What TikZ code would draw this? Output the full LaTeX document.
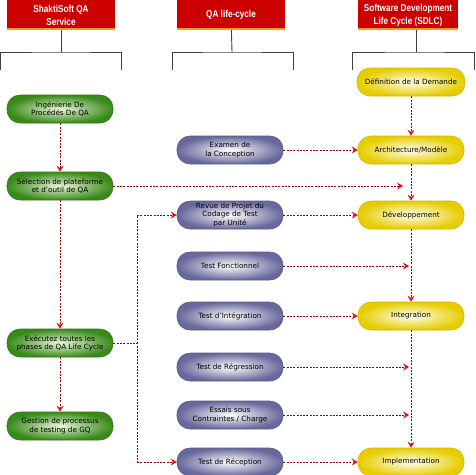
\documentclass[tikz,border=0pt]{standalone}
\usepackage{fontspec}
\setmainfont{DejaVu Sans}
\newfontfamily\headfont[FakeStretch=0.82]{Liberation Sans}
\usetikzlibrary{arrows.meta}

\definecolor{headred}{HTML}{CC0000}
\definecolor{headorange}{HTML}{FF9A1A}
\definecolor{linkred}{HTML}{990000}
\definecolor{tipred}{HTML}{DD1111}
\definecolor{greenrim}{HTML}{3A8A1A}
\definecolor{greenin}{HTML}{E8F6D8}
\definecolor{purplerim}{HTML}{68689C}
\definecolor{purplein}{HTML}{FFFFFF}
\definecolor{yellowrim}{HTML}{E6CC00}
\definecolor{yellowin}{HTML}{FFFFF0}

\tikzset{
  head/.style={fill=headred, text=white, minimum width=108pt, minimum height=30pt,
    inner sep=0pt, align=center, font=\headfont\bfseries\fontsize{10}{13}\selectfont,
    path picture={\fill[headorange] (path picture bounding box.south west)
      rectangle ([yshift=2pt]path picture bounding box.south east);}},
  pill/.style={rounded corners=13pt, minimum height=28pt, minimum width=106pt,
    inner sep=0pt, align=center, line width=0.6pt, font=\fontsize{7.2}{8.2}\selectfont},
  qastep/.style={pill, inner color=greenin, outer color=greenrim, draw=greenrim!85!black},
  qacheck/.style={pill, inner color=purplein, outer color=purplerim, draw=purplerim!85!black},
  sdlcstep/.style={pill, inner color=yellowin, outer color=yellowrim, draw=yellowrim!90!black},
  link/.style={linkred, line width=0.8pt, dash pattern=on 2pt off 1.3pt},
  linkarrow/.style={link, -{Stealth[length=6pt, width=7pt, inset=2.2pt, color=tipred]}},
  bracket/.style={draw=black!75, line width=0.9pt}
}

\begin{document}
\begin{tikzpicture}[x=1pt, y=-1pt]
    \useasboundingbox (0,0) rectangle (475,475);

    \node[head] (svchead) at (61,15) {ShaktiSoft QA\\Service};
    \node[head] (cyclehead) at (231,15) {QA life-cycle};
    \node[head, minimum width=100pt] (sdlchead) at (408,15) {Software Development\\Life Cycle (SDLC)};

    \coordinate (svcfork) at (61,52);
    \coordinate (svcL) at (0.5,70);
    \coordinate (svcR) at (121.5,70);
    \coordinate (cyclefork) at (232,52);
    \coordinate (cycleL) at (172,70);
    \coordinate (cycleR) at (293,70);
    \coordinate (sdlcstem) at (416,30);
    \coordinate (sdlcfork) at (416,52);
    \coordinate (sdlcL) at (352,70);
    \coordinate (sdlcR) at (474.5,70);

    \draw[bracket] (svchead) -- (svcfork);
    \draw[bracket] (svcL) |- (svcfork) -| (svcR);
    \draw[bracket] (cyclehead) -- (cyclefork);
    \draw[bracket] (cycleL) |- (cyclefork) -| (cycleR);
    \draw[bracket] (sdlcstem) -- (sdlcfork);
    \draw[bracket] (sdlcL) |- (sdlcfork) -| (sdlcR);

    \node[qastep] (engineer) at (60,109) {Ingénierie De\\Procédés De QA};
    \node[qastep] (select) at (60,186) {Sélection de plateforme\\et d’outil de QA};
    \node[qastep] (execute) at (60,343) {Exécutez toutes les\\phases de QA Life Cycle};
    \node[qastep] (manage) at (60,426) {Gestion de processus\\de testing de GQ};

    \node[qacheck] (design) at (230,150) {Examen de\\la Conception};
    \node[qacheck] (review) at (230,215) {Revue de Projet du\\Codage de Test\\par Unité};
    \node[qacheck] (functional) at (230,266) {Test Fonctionnel};
    \node[qacheck] (integtest) at (230,316) {Test d’Intégration};
    \node[qacheck] (regression) at (230,367) {Test de Régression};
    \node[qacheck] (load) at (230,415) {Essais sous\\Contraintes / Charge};
    \node[qacheck] (acceptance) at (230,462) {Test de Réception};

    \node[sdlcstep, minimum width=108pt] (demand) at (411,82) {Définition de la Demande};
    \node[sdlcstep] (archi) at (411,150) {Architecture/Modèle};
    \node[sdlcstep] (develop) at (411,215) {Développement};
    \node[sdlcstep] (integ) at (411,316) {Integration};
    \node[sdlcstep] (deploy) at (411,462) {Implementation};

    \coordinate (selecttip) at (403,186);
    \coordinate (functionaltip) at (409,266);
    \coordinate (regressiontip) at (409,367);
    \coordinate (loadtip) at (409,415);
    \coordinate (busT) at (137,215);
    \coordinate (busB) at (137,462);

    \draw[linkarrow] (engineer) -- (select);
    \draw[linkarrow] (select) -- (execute);
    \draw[linkarrow] (execute) -- (manage);
    \draw[linkarrow] (select) -- (selecttip);

    \draw[link] (execute.east) -| (busT);
    \draw[link] (execute.east) -| (busB);
    \draw[linkarrow] (busT) -- (review);
    \draw[linkarrow] (busB) -- (acceptance);

    \draw[linkarrow] (design) -- (archi);
    \draw[linkarrow] (review) -- (develop);
    \draw[linkarrow] (functional) -- (functionaltip);
    \draw[linkarrow] (integtest) -- (integ);
    \draw[linkarrow] (regression) -- (regressiontip);
    \draw[linkarrow] (load) -- (loadtip);
    \draw[linkarrow] (acceptance) -- (deploy);

    \draw[linkarrow] (demand) -- (archi);
    \draw[linkarrow] (archi) -- (develop);
    \draw[linkarrow] (develop) -- (integ);
    \draw[linkarrow] (integ) -- (deploy);
\end{tikzpicture}
\end{document}
